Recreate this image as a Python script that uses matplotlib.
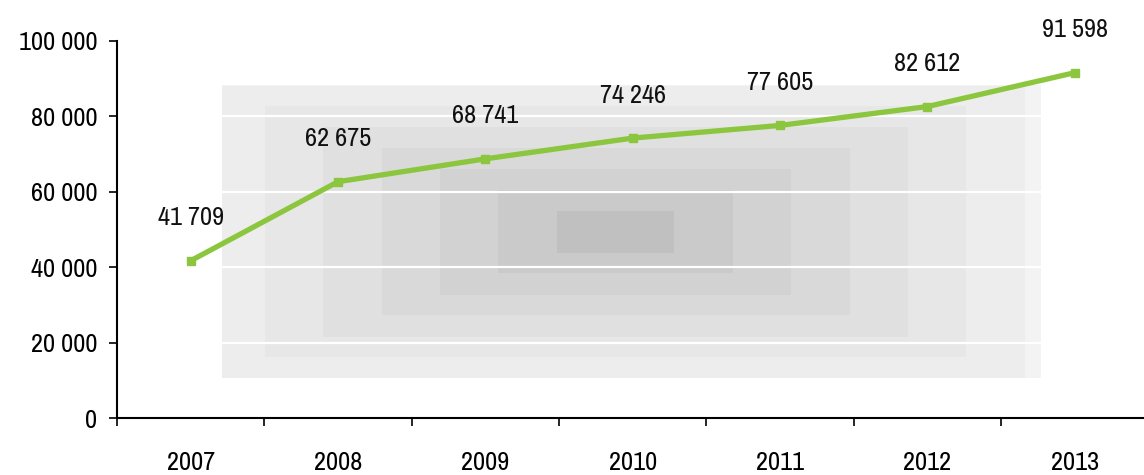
import numpy as np
import matplotlib
matplotlib.use("Agg")
import matplotlib.pyplot as plt
from matplotlib import font_manager

years = ["2007", "2008", "2009", "2010", "2011", "2012", "2013"]
values = [41709, 62675, 68741, 74246, 77605, 82612, 91598]
labels = ["41 709", "62 675", "68 741", "74 246", "77 605", "82 612", "91 598"]
yticks = [0, 20000, 40000, 60000, 80000, 100000]
ytick_labels = ["0", "20 000", "40 000", "60 000", "80 000", "100 000"]

avail = {f.name for f in font_manager.fontManager.ttflist}
fam = "DejaVu Sans"
for cand in ["Liberation Sans Narrow", "Archivo Narrow", "Roboto Condensed", "Barlow Semi Condensed"]:
    if cand in avail:
        fam = cand
        break
plt.rcParams["font.family"] = [fam, "DejaVu Sans"]
FS = 19

fig = plt.figure(figsize=(11.44, 4.75), dpi=100)
ax = fig.add_axes([117/1144, 1-418/475, 1-117/1144, (418-41)/475])

# decorative stepped gray background
H, W = 300, 800
yy, xx = np.mgrid[0:H, 0:W]
cx, cy = 0.48 * W, 0.5 * H
d = np.maximum(np.abs(xx - cx) / (0.5 * W), np.abs(yy - cy) / (0.5 * H))
d = np.floor(d * 7) / 7
img = 0.75 + 0.20 * np.clip(d, 0, 1) ** 0.8
ax.imshow(img, cmap="gray", vmin=0, vmax=1, extent=(0.102, 0.899, 0.106, 0.883),
          transform=ax.transAxes, aspect="auto", zorder=0, interpolation="nearest")

for v in yticks[1:-1]:
    ax.axhline(v, color="white", lw=1.6, zorder=1)

x = np.arange(len(years))
ax.plot(x, values, color="#8cc63e", lw=3.8, marker="s", ms=6, zorder=3)
for xi, v, lab in zip(x, values, labels):
    ax.annotate(lab, (xi, v), xytext=(0, 31), textcoords="offset points",
                ha="center", va="center", fontsize=FS, color="#111111")

ax.set_xlim(-0.5, len(years) - 0.53)
ax.set_ylim(0, 100000)
ax.set_yticks(yticks)
ax.set_yticklabels(ytick_labels)
ax.set_xticks(x)
ax.set_xticklabels(years)
ax.set_xticks(np.arange(-0.5, len(years) - 1), minor=True)
ax.tick_params(axis="x", which="major", length=0, pad=24, labelsize=FS)
ax.tick_params(axis="x", which="minor", length=6, width=1.2, direction="out")
ax.tick_params(axis="y", length=6, width=1.2, pad=8, labelsize=FS)
for s in ["top", "right"]:
    ax.spines[s].set_visible(False)
ax.spines["left"].set_linewidth(1.5)
ax.spines["bottom"].set_linewidth(1.5)
ax.set_facecolor("white")

fig.savefig("out.png", dpi=100)
